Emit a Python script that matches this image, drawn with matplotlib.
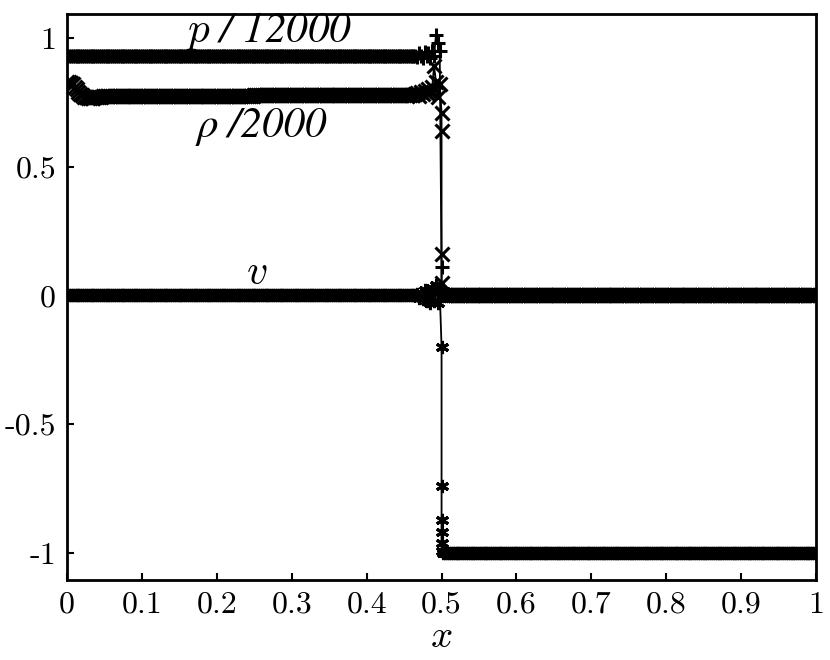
import numpy as np
import matplotlib
matplotlib.use("Agg")
import matplotlib.pyplot as plt

plt.rcParams['font.family'] = 'cmr10'
plt.rcParams['mathtext.fontset'] = 'cm'
plt.rcParams['axes.formatter.use_mathtext'] = True
plt.rcParams['axes.unicode_minus'] = False

# cell centres on either side of the jump at x = 0.5
x_left = np.linspace(0, 0.4975, 200)
x_right = np.linspace(0.5025, 1, 200)

# p / 12000
p_left = [0.93] * 186 + [0.93, 0.925, 0.94, 0.93, 0.92, 0.945, 0.93, 0.94,
                         0.92, 0.95, 0.93, 1.01, 0.98, 0.95]
p_jump = [0.11, 0.03]
p_right = [0.0] * 200

# rho / 2000
rho_left = ([0.83, 0.83, 0.825, 0.82, 0.81, 0.80, 0.79, 0.783, 0.777, 0.772,
             0.769, 0.767, 0.766, 0.767, 0.768, 0.769, 0.770, 0.771, 0.772, 0.773]
            + [0.775] * 80 + [0.778] * 86
            + [0.78, 0.785, 0.775, 0.79, 0.78, 0.795, 0.785, 0.80, 0.79, 0.81,
               0.89, 0.83, 0.77, 0.82])
rho_jump = [0.71, 0.64, 0.16, 0.05]
rho_right = [0.0] * 200

# v
v_left = [0.0] * 186 + [0.0, 0.005, -0.01, 0.01, -0.015, 0.02, -0.02, 0.015,
                        -0.03, 0.03, -0.02, 0.04, -0.03, 0.02]
v_jump = [-0.2, -0.74, -0.87, -0.92, -0.96, -0.99]
v_right = [-1.0] * 200

xticks = [0, 0.1, 0.2, 0.3, 0.4, 0.5, 0.6, 0.7, 0.8, 0.9, 1]
xtick_labels = ['0', '0.1', '0.2', '0.3', '0.4', '0.5', '0.6', '0.7', '0.8', '0.9', '1']
yticks = [-1, -0.5, 0, 0.5, 1]
ytick_labels = ['-1', '-0.5', '0', '0.5', '1']


def series(left, jump, right):
	xs = np.concatenate([x_left, [0.5] * len(jump), x_right])
	ys = np.array(left + jump + right)
	return xs, ys


fig = plt.figure(figsize=(8.3, 6.6), dpi=100)
ax = fig.add_axes([0.081, 0.121, 0.902, 0.858])

for (l, j, r), mk in [((p_left, p_jump, p_right), '+'),
                      ((rho_left, rho_jump, rho_right), 'x'),
                      ((v_left, v_jump, v_right), (6, 2, 0))]:
	xs, ys = series(l, j, r)
	ax.plot(xs, ys, '-', color='black', lw=1.3, marker=mk, ms=9.5, mew=2.2)

ax.set_xlim(0, 1)
ax.set_ylim(-1.105, 1.093)
ax.set_xticks(xticks)
ax.set_xticklabels(xtick_labels)
ax.set_yticks(yticks)
ax.set_yticklabels(ytick_labels)
ax.tick_params(direction='in', length=5, width=1.5, labelsize=23, pad=8)
for s in ax.spines.values():
	s.set_linewidth(2)

ax.set_xlabel('$x$', fontsize=28, labelpad=0)

lab = dict(fontsize=31, family='STIXGeneral', style='italic', ha='center', va='center')
ax.text(0.27, 1.025, '$p$ / 12000', **lab)
ax.text(0.26, 0.655, 'ρ /2000', **lab)
ax.text(0.253, 0.085, '$v$', fontsize=30, ha='center', va='center')

fig.savefig('out.png', dpi=100)
